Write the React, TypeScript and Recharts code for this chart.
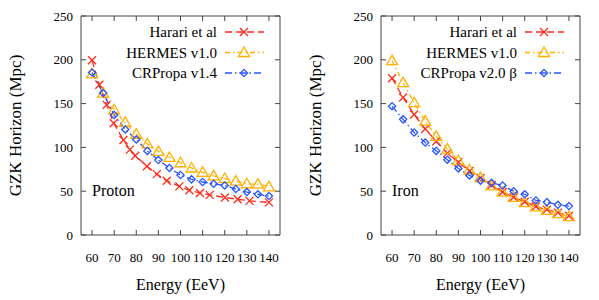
import { LineChart, Line, XAxis, YAxis, ReferenceArea } from "recharts";

// energy grid (EeV) shared by most series
const energies = [60, 65, 70, 75, 80, 85, 90, 95, 100, 105, 110, 115, 120, 125, 130, 135, 140];
const xTicks = [60, 70, 80, 90, 100, 110, 120, 130, 140];
const yTicks = [0, 50, 100, 150, 200, 250];

// Proton panel
const protonHarariE = [60, 63.3, 66.6, 69.8, 74.2, 77.1, 79.5, 84.8, 89.3, 93.8, 99.5, 104, 108.8, 113.2, 120.1, 125.8, 131.2, 140];
const protonHarari = [199.5, 171.5, 148.5, 127.5, 108.5, 97.5, 90.5, 78.5, 69.5, 62, 55.5, 51, 48, 45.8, 42.8, 40.8, 39, 37.2];
const protonHermes = [184, 162, 143, 128.5, 115, 104, 95.5, 88.5, 82.5, 76.5, 71.5, 67.5, 64.5, 61.5, 58.5, 58, 55];
const protonCrpropa = [185.5, 162, 137, 120.5, 109, 96, 85.5, 76.5, 68.5, 63.5, 60.5, 58.5, 56.5, 52.5, 49, 46.5, 44.5];

// Iron panel
const ironHarari = [179, 157, 137.5, 121, 107, 93.5, 83, 73, 65, 57, 49, 43, 38, 32.5, 29, 25.5, 22];
const ironHermes = [199, 174, 151, 130, 112.5, 98, 85, 74.5, 65.5, 56, 49, 43, 37, 32, 28, 24.5, 21];
const ironCrpropa = [147, 132, 117, 105.5, 96, 86, 76, 68, 62, 59.5, 56.5, 50, 46.5, 39.5, 37.5, 34.5, 33];

const FONT = '"Liberation Serif", "Times New Roman", serif';
const RED = "#ff2a1a";
const ORANGE = "#ffb000";
const BLUE = "#2a55ff";
const FRAME = "#444";

const PLOT_TOP = 16;
const PLOT_BOTTOM = 235;
const PLOT_LEFT = 81;
const PLOT_RIGHT = 280;

type Shape = "x" | "tri" | "dia";

interface SeriesDef {
  name: string;
  color: string;
  dash: string;
  shape: Shape;
  data: { e: number; v: number }[];
}

const toPts = (xs: number[], ys: number[]) => xs.map((e, i) => ({ e, v: ys[i] }));

function markerPath(cx: number, cy: number, shape: Shape) {
  if (shape === "x") return `M${cx - 4},${cy - 4}L${cx + 4},${cy + 4}M${cx - 4},${cy + 4}L${cx + 4},${cy - 4}`;
  if (shape === "tri") return `M${cx},${cy - 5.5}L${cx + 5.5},${cy + 4}L${cx - 5.5},${cy + 4}Z`;
  return `M${cx},${cy - 3.6}L${cx + 3.6},${cy}L${cx},${cy + 3.6}L${cx - 3.6},${cy}Z`;
}

function Marker(props: any) {
  const { cx, cy, shape, color } = props;
  if (cx == null || cy == null) return null;
  return <path d={markerPath(cx, cy, shape)} stroke={color} strokeWidth={1.3} fill="none" />;
}

function XTick(props: any) {
  const { x, payload } = props;
  return (
    <g>
      <line x1={x} x2={x} y1={PLOT_BOTTOM} y2={PLOT_BOTTOM - 5} stroke={FRAME} />
      <line x1={x} x2={x} y1={PLOT_TOP} y2={PLOT_TOP + 5} stroke={FRAME} />
      <text x={x} y={257} textAnchor="middle" dominantBaseline="central" fontFamily={FONT} fontSize={13} fill="#000">
        {payload.value}
      </text>
    </g>
  );
}

function YTick(props: any) {
  const { y, payload } = props;
  return (
    <g>
      <line x1={PLOT_LEFT} x2={PLOT_LEFT + 5} y1={y} y2={y} stroke={FRAME} />
      <line x1={PLOT_RIGHT} x2={PLOT_RIGHT - 5} y1={y} y2={y} stroke={FRAME} />
      <text x={73} y={y} textAnchor="end" dominantBaseline="central" fontFamily={FONT} fontSize={13} fill="#000">
        {payload.value}
      </text>
    </g>
  );
}

// key box in the top right corner of each panel
function LegendBox({ series }: { series: SeriesDef[] }) {
  return (
    <g>
      {series.map((s, i) => {
        const y = 32 + i * 20.5;
        return (
          <g key={s.name}>
            <text x={217} y={y} textAnchor="end" dominantBaseline="central" fontFamily={FONT} fontSize={15} fill="#000">
              {s.name}
            </text>
            <line x1={225} x2={264} y1={y} y2={y} stroke={s.color} strokeWidth={1.3} strokeDasharray={s.dash} />
            <path d={markerPath(244, y, s.shape)} stroke={s.color} strokeWidth={1.3} fill="none" />
          </g>
        );
      })}
    </g>
  );
}

function Panel({ width, label, series }: { width: number; label: string; series: SeriesDef[] }) {
  return (
    <LineChart width={width} height={300} margin={{ top: PLOT_TOP, right: width - PLOT_RIGHT, bottom: 0, left: 0 }}>
      <XAxis
        type="number"
        dataKey="e"
        domain={[55, 145]}
        ticks={xTicks}
        interval={0}
        allowDuplicatedCategory={false}
        height={300 - PLOT_BOTTOM}
        axisLine={false}
        tickLine={false}
        tick={<XTick />}
      />
      <YAxis
        type="number"
        domain={[0, 250]}
        ticks={yTicks}
        interval={0}
        width={PLOT_LEFT}
        axisLine={false}
        tickLine={false}
        tick={<YTick />}
      />
      <ReferenceArea x1={55} x2={145} y1={0} y2={250} fill="none" stroke={FRAME} strokeWidth={1} ifOverflow="visible" />
      {series.map((s) => (
        <Line
          key={s.name}
          data={s.data}
          dataKey="v"
          name={s.name}
          stroke={s.color}
          strokeWidth={1.3}
          strokeDasharray={s.dash}
          isAnimationActive={false}
          dot={(p: any) => <Marker key={`${s.name}-${p.index}`} cx={p.cx} cy={p.cy} shape={s.shape} color={s.color} />}
          activeDot={false}
        />
      ))}
      <LegendBox series={series} />
      <text x={92} y={190} dominantBaseline="central" fontFamily={FONT} fontSize={16} fill="#000">
        {label}
      </text>
      <text
        x={15}
        y={125.5}
        transform="rotate(-90 15 125.5)"
        textAnchor="middle"
        dominantBaseline="central"
        fontFamily={FONT}
        fontSize={17}
        fill="#000"
      >
        GZK Horizon (Mpc)
      </text>
      <text x={180.5} y={284} textAnchor="middle" dominantBaseline="central" fontFamily={FONT} fontSize={16} fill="#000">
        Energy (EeV)
      </text>
    </LineChart>
  );
}

const protonSeries: SeriesDef[] = [
  { name: "Harari et al", color: RED, dash: "7 4", shape: "x", data: toPts(protonHarariE, protonHarari) },
  { name: "HERMES v1.0", color: ORANGE, dash: "5 3 1.5 3", shape: "tri", data: toPts(energies, protonHermes) },
  { name: "CRPropa v1.4", color: BLUE, dash: "7 3 1.5 3", shape: "dia", data: toPts(energies, protonCrpropa) },
];

const ironSeries: SeriesDef[] = [
  { name: "Harari et al", color: RED, dash: "7 4", shape: "x", data: toPts(energies, ironHarari) },
  { name: "HERMES v1.0", color: ORANGE, dash: "5 3 1.5 3", shape: "tri", data: toPts(energies, ironHermes) },
  { name: "CRPropa v2.0 β", color: BLUE, dash: "7 3 1.5 3", shape: "dia", data: toPts(energies, ironCrpropa) },
];

export default function App() {
  return (
    <div style={{ position: "absolute", left: 0, top: 0, width: 599, height: 300, background: "#fff", display: "flex" }}>
      <Panel width={300} label="Proton" series={protonSeries} />
      <Panel width={299} label="Iron" series={ironSeries} />
    </div>
  );
}
